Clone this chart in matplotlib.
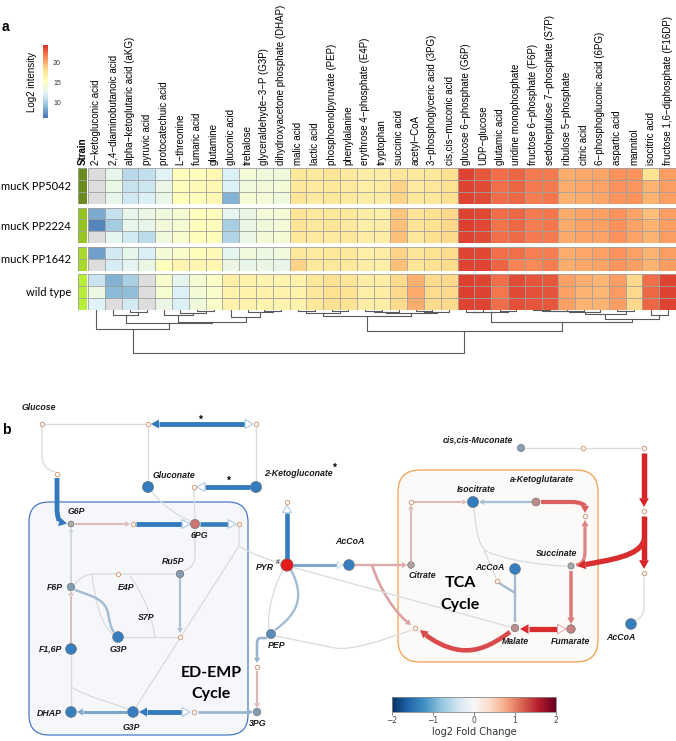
import numpy as np
import matplotlib
matplotlib.use("Agg")
import matplotlib.pyplot as plt
from matplotlib.colors import LinearSegmentedColormap, ListedColormap, Normalize
from matplotlib.cm import ScalarMappable
from matplotlib.path import Path
from matplotlib.patches import PathPatch, Polygon, FancyBboxPatch

plt.rcParams['font.family'] = ['Liberation Sans', 'DejaVu Sans']

# ---------------- panel a data ----------------
metabolites = ["2-ketogluconic acid", "2,4-diaminobutanoic acid", "alpha-ketoglutaric acid (aKG)",
               "pyruvic acid", "protocatechuic acid", "L-threonine", "fumaric acid", "glutamine",
               "gluconic acid", "trehalose", "glyceraldehyde-3-P (G3P)",
               "dihydroxyacetone phosphate (DHAP)", "malic acid", "lactic acid",
               "phosphoenolpyruvate (PEP)", "phenylalanine", "erythrose 4-phosphate (E4P)",
               "tryptophan", "succinic acid", "acetyl-CoA", "3-phosphoglyceric acid (3PG)",
               "cis,cis-muconic acid", "glucose 6-phosphate (G6P)", "UDP-glucose", "glutamic acid",
               "uridine monophosphate", "fructose 6-phosphate (F6P)",
               "sedoheptulose 7-phosphate (S7P)", "ribulose 5-phosphate", "citric acid",
               "6-phosphogluconic acid (6PG)", "aspartic acid", "mannitol", "isocitric acid",
               "fructose 1,6-diphosphate (F16DP)"]
strains = ["mucK PP5042", "mucK PP2224", "mucK PP1642", "wild type"]
strain_reps = [3, 3, 2, 3]
strain_colors = ["#6a8b1f", "#96c423", "#a8d82b", "#b6ee3a"]

nan = np.nan
# log2 intensity, one list per metabolite, 11 samples (3 + 3 + 2 + 3)
intensity_by_metabolite = [
    [nan, nan, nan, 8.5, 7.0, nan, 8.0, nan, 11.5, 13.5, 12.3],
    [13.0, 13.3, 13.0, 11.3, 10.0, 12.8, 11.8, 11.9, 8.8, 9.1, nan],
    [10.8, 11.3, 11.7, 13.0, 13.0, 11.8, 13.0, 12.6, 10.3, 9.3, 11.8],
    [11.2, 11.6, 12.1, 13.4, 13.0, 11.0, 12.0, 13.3, nan, nan, nan],
    [12.4, 13.4, 13.2, 13.8, 13.9, 13.7, 14.0, 15.3, 14.6, 14.4, 13.4],
    [15.4, 15.5, 15.4, 14.3, 14.3, 14.6, 14.8, 16.3, 12.8, 12.2, 12.2],
    [15.4, 15.8, 15.5, 15.3, 15.4, 15.5, 15.5, 16.2, 14.3, 14.1, 13.8],
    [16.0, 16.0, 16.0, 15.5, 15.5, 15.5, 15.8, 16.1, 14.9, 14.7, 14.8],
    [12.2, 12.2, 8.8, 12.8, 10.2, 10.5, 12.8, 13.4, 16.8, 16.6, 16.7],
    [14.0, 13.8, 14.3, 13.4, 13.3, 13.4, 13.8, 13.1, 16.7, 16.6, 16.5],
    [13.8, 13.9, 14.1, 14.0, 13.8, 14.1, 13.5, 13.4, 16.3, 16.6, 16.4],
    [13.8, 14.1, 13.7, 14.2, 14.1, 14.2, 13.8, 13.1, 16.4, 16.6, 16.3],
    [17.5, 17.5, 17.7, 17.7, 17.7, 17.5, 17.5, 18.7, 16.6, 16.6, 16.6],
    [17.3, 17.3, 17.2, 17.4, 17.4, 17.3, 17.4, 17.4, 17.5, 17.5, 17.5],
    [17.7, 17.5, 17.5, 17.5, 17.7, 17.4, 17.5, 17.5, 18.0, 18.2, 18.1],
    [17.3, 17.4, 17.4, 17.5, 17.4, 17.5, 17.5, 17.5, 17.7, 18.0, 18.0],
    [17.0, 16.9, 17.0, 17.0, 16.9, 17.0, 16.9, 17.0, 17.0, 16.9, 17.0],
    [17.0, 17.1, 17.0, 16.9, 17.0, 17.0, 17.0, 16.9, 17.0, 17.1, 17.0],
    [17.6, 18.8, 18.7, 19.3, 19.5, 19.5, 18.8, 19.5, 18.5, 18.6, 18.5],
    [17.4, 17.4, 17.5, 17.7, 17.7, 17.6, 17.7, 17.7, 20.0, 20.2, 20.1],
    [17.5, 17.6, 17.5, 18.3, 18.2, 18.3, 18.1, 18.1, 18.4, 18.4, 18.4],
    [18.2, 18.1, 18.2, 18.6, 18.6, 18.5, 18.4, 18.4, 18.6, 18.6, 18.5],
    [23.7, 23.7, 23.6, 23.7, 23.8, 23.7, 23.6, 23.7, 23.8, 23.8, 23.7],
    [23.0, 23.4, 23.4, 23.5, 23.5, 23.4, 23.5, 23.6, 23.6, 23.7, 23.6],
    [22.2, 22.2, 22.3, 22.2, 22.1, 22.2, 22.2, 22.6, 22.2, 22.0, 22.2],
    [22.6, 22.6, 22.5, 22.5, 22.5, 22.4, 22.2, 21.5, 23.4, 23.4, 23.3],
    [21.9, 21.9, 21.8, 21.9, 21.8, 21.9, 21.7, 21.4, 23.1, 23.2, 23.1],
    [21.9, 21.9, 22.0, 22.0, 22.0, 21.9, 21.8, 21.8, 23.0, 23.1, 23.0],
    [20.1, 20.1, 20.0, 20.2, 20.2, 20.2, 20.1, 20.1, 20.6, 20.6, 20.6],
    [20.3, 20.3, 20.2, 20.5, 20.5, 20.4, 20.3, 20.3, 20.1, 19.9, 19.9],
    [20.4, 20.5, 20.4, 20.6, 20.6, 20.5, 20.6, 20.5, 19.8, 19.8, 19.9],
    [21.1, 21.1, 21.0, 21.1, 21.2, 21.1, 21.1, 21.0, 20.7, 20.8, 20.7],
    [21.1, 21.0, 21.1, 20.5, 20.5, 20.5, 20.6, 20.6, 18.6, 18.6, 18.6],
    [18.0, 19.9, 19.9, 19.5, 19.9, 19.9, 19.9, 19.9, 22.2, 22.5, 22.5],
    [20.7, 20.7, 20.7, 20.7, 20.7, 20.7, 20.7, 20.7, 23.6, 23.7, 23.7],
]
# column dendrogram: (left, right, height); new clusters get ids 35, 36, ...
col_linkage = [
    (2, 3, 1.7), (1, 35, 4.7), (6, 7, 1.0), (5, 37, 3.3), (4, 38, 5.0),
    (10, 11, 0.7), (9, 40, 2.3), (8, 41, 7.3), (39, 42, 11.7), (36, 43, 12.7),
    (0, 44, 19.3), (12, 13, 1.0), (14, 15, 1.5), (46, 47, 3.0), (16, 17, 1.0),
    (49, 18, 2.5), (19, 20, 1.0), (51, 21, 2.0), (50, 52, 3.5), (48, 53, 5.7),
    (22, 23, 1.7), (24, 25, 1.0), (55, 56, 2.3), (26, 27, 0.5), (58, 28, 1.0),
    (59, 29, 1.5), (60, 30, 2.5), (31, 32, 1.0), (61, 62, 4.0), (33, 34, 5.0),
    (63, 64, 9.0), (57, 65, 12.0), (54, 66, 21.0), (45, 67, 43.0),
]

# ---------------- panel b data ----------------
node_names = ["Gluconate", "2-Ketogluconate", "G6P", "6PG", "F6P", "Ru5P", "G3P", "F1,6P",
              "DHAP", "G3P", "3PG", "PEP", "PYR", "AcCoA", "Citrate", "Isocitrate",
              "a-Ketoglutarate", "cis,cis-Muconate", "Succinate", "Fumarate", "Malate",
              "AcCoA", "AcCoA"]
node_log2fc = [-1.6, -1.6, 0.0, 1.0, -0.5, -0.5, -1.5, -1.5, -1.5, -1.5, -0.5, -1.0, 2.0,
               -1.5, 0.2, -1.6, 0.6, -0.4, -0.1, 0.8, 0.5, -1.5, -1.5]
reaction_log2fc = [0, -1.6, 0, 0, 0, -1.6, -1.6, 0, 0, 0.35, -1.6, -1.5, 0, 0, 0, -0.15,
                   0.3, 0, 0, -0.8, -1.6, -0.6, 0.4, -0.6, 0, -0.5, -1.5, -0.8, 0.5, 0.6,
                   0.35, 0.35, -0.45, 1.3, 0.9, 1.0, 1.8, 1.5, -0.5, -0.5, 0, 0, 0, 0, 0, 0,
                   1.9, 1.9, 1.8, 0, 0, 0, 0, 0, -0.4, -0.5]

# ---------------- figure ----------------
W, H = 676, 741
fig = plt.figure(figsize=(W / 100, H / 100), dpi=100)


def px_axes(x0, y0, x1, y1):
    return fig.add_axes([x0 / W, 1 - y1 / H, (x1 - x0) / W, (y1 - y0) / H])


axb = fig.add_axes([0, 0, 1, 1])
axb.set_xlim(0, W)
axb.set_ylim(H, 0)
axb.axis("off")

# heatmap
data = np.array(intensity_by_metabolite).T
cmap_a = LinearSegmentedColormap.from_list(
    "pheat", ["#4575B4", "#91BFDB", "#E0F3F8", "#FFFFBF", "#FEE090", "#FC8D59", "#D73027"])
cmap_a.set_bad("#dddddd")
norm_a = Normalize(6.3, 24.3)
ncol = len(metabolites)
group_y = [(168, 204), (207.5, 243), (246.5, 270.5), (274, 310)]
strain_cmap = ListedColormap(strain_colors)

r0 = 0
for g, (name, n) in enumerate(zip(strains, strain_reps)):
    y0, y1 = group_y[g]
    ax = px_axes(88, y0, 676, y1)
    ax.set_facecolor("#dddddd")
    ax.pcolormesh(np.ma.masked_invalid(data[r0:r0 + n]), cmap=cmap_a, norm=norm_a)
    ax.vlines(np.arange(ncol + 1), 0, n, color="#a0a0a0", lw=0.6)
    ax.hlines(np.arange(n + 1), 0, ncol, color="#a0a0a0", lw=0.6)
    ax.set_xlim(0, ncol)
    ax.set_ylim(n, 0)
    for s in ax.spines.values():
        s.set_visible(False)
    ax.set_yticks([])
    if g == 0:
        ax.xaxis.tick_top()
        ax.set_xticks(np.arange(ncol) + 0.5)
        ax.set_xticklabels([m.replace("-", "\u2212") for m in metabolites], rotation=90,
                           fontsize=7)
        ax.tick_params(axis="x", length=0, pad=2)
    else:
        ax.set_xticks([])

    sa = px_axes(78, y0, 86.5, y1)
    sa.pcolormesh(np.full((n, 1), g), cmap=strain_cmap, norm=Normalize(-0.5, 3.5))
    sa.hlines(np.arange(n + 1), 0, 1, color="#a0a0a0", lw=0.6)
    sa.vlines([0, 1], 0, n, color="#a0a0a0", lw=0.6)
    sa.set_xlim(0, 1)
    sa.set_ylim(n, 0)
    for s in sa.spines.values():
        s.set_visible(False)
    sa.set_yticks([n / 2])
    sa.set_yticklabels([name], fontsize=8, family="Lato")
    sa.tick_params(axis="y", length=0, pad=5)
    if g == 0:
        sa.xaxis.tick_top()
        sa.set_xticks([0.5])
        sa.set_xticklabels(["Strain"], rotation=90, fontsize=7, fontweight="bold")
        sa.tick_params(axis="x", length=0, pad=2)
    else:
        sa.set_xticks([])
    r0 += n

# dendrogram below the heatmap
axd = px_axes(88, 310, 676, 356)
pos = {i: (i + 0.5, 0.0) for i in range(ncol)}
for k, (a, b, h) in enumerate(col_linkage):
    xa, ha = pos[a]
    xb, hb = pos[b]
    axd.plot([xa, xa, xb, xb], [ha, h, h, hb], color="#5a5a5a", lw=0.8)
    pos[ncol + k] = ((xa + xb) / 2, h)
axd.set_xlim(0, ncol)
axd.set_ylim(46, 0)
axd.axis("off")

# intensity colour bar
cax = px_axes(43, 45, 47.5, 118)
cb = fig.colorbar(ScalarMappable(norm=norm_a, cmap=cmap_a), cax=cax, ticks=[10, 15, 20])
cb.outline.set_visible(False)
cax.tick_params(length=0, labelsize=5, pad=4, colors="#333333")
axb.text(32, 82, "Log2 intensity", rotation=90, ha="center", va="center", fontsize=7)
axb.text(2, 27, "a", fontsize=10, fontweight="bold", va="center")
axb.text(2, 430, "b", fontsize=10, fontweight="bold", va="center")

# ---------------- panel b ----------------
node_cmap = LinearSegmentedColormap.from_list(
    "node", [(0, "#2a76b8"), (0.15, "#3a80c0"), (0.5, "#ababab"), (0.85, "#d86060"),
             (1, "#e41a1c")])
edge_cmap = LinearSegmentedColormap.from_list(
    "edge", [(0, "#2470b5"), (0.15, "#3a80c0"), (0.5, "#dcdcdc"), (0.85, "#dc5555"),
             (1, "#d7191c")])
fc_norm = Normalize(-2, 2)

# layout (pixel positions)
axb.add_patch(FancyBboxPatch((29, 502), 219, 233, boxstyle="round,pad=0,rounding_size=20",
                             fc="#f5f7fb", ec="#4a78c8", lw=0.9, zorder=1))
axb.add_patch(FancyBboxPatch((398, 470), 200, 192, boxstyle="round,pad=0,rounding_size=22",
                             fc="#fbfaf8", ec="#f0a050", lw=0.9, zorder=1))

edge_paths = [
    ([(44, 424), (146, 424)], None, None),
    ([(253, 424), (151, 424)], "solid", "outline"),
    ([(148, 427), (148, 482)], None, None),
    ([(256, 427), (256, 482)], None, None),
    ([(42, 427), (42, 455), ((42, 466), (48, 470), (55, 472))], None, None),
    ([(57, 478), (57, 508), ((57, 518), (60, 522), (67, 523.5))], "solid", None),
    ([(250, 487), (197, 487)], "outline", None),
    ([(194, 490), (195, 519)], None, None),
    ([(152, 492), ((165, 508), (180, 517), (191, 521))], None, None),
    ([(75, 524), (130, 524)], "solid", None),
    ([(136, 524), (190, 524)], "outline", None),
    ([(200, 524), (236, 524)], "outline", None),
    ([(239, 527), (239, 546), (136, 707)], None, None),
    ([(239, 546), ((252, 554), (268, 560), (281, 563))], None, None),
    ([(195, 529), (195, 556), ((195, 566), (189, 569), (183, 571))], None, None),
    ([(71, 583), (71, 528)], "solid", None),
    ([(71, 644), (71, 591)], "solid", None),
    ([(71, 655), (71, 707)], None, None),
    ([(71, 687), ((88, 697), (112, 703), (128, 709))], None, None),
    ([(127, 712), (77, 712)], "solid", None),
    ([(190, 712), (139, 712)], "solid", "outline"),
    ([(198, 712), (253, 712)], "solid", None),
    ([(257, 671), (257, 708)], "solid", None),
    ([(267, 638), (261, 638), ((258, 638), (257, 640), (257, 644)), (257, 663)], "solid", None),
    ([(283, 570), ((272, 590), (267, 615), (269, 629))], None, None),
    ([(275, 630), ((296, 615), (306, 598), (291, 570))], None, None),
    ([(287, 559), (287, 505)], "outline", None),
    ([(293, 565), (343, 565)], "outline", None),
    ([(355, 565), (407, 565)], "solid", None),
    ([(372, 565), ((380, 590), (395, 612), (411, 625))], "solid", None),
    ([(411, 561), (411, 505)], "solid", None),
    ([(414, 502), (467, 502)], "solid", None),
    ([(532, 502), (479, 502)], "solid", None),
    ([(541, 502), (572, 502), ((580, 502), (585, 505), (585, 513))], "solid", None),
    ([(576, 565), ((584, 563), (585, 558), (585, 550)), (585, 520)], "solid", None),
    ([(571, 571), (571, 624)], "solid", None),
    ([(566, 629), (520, 629)], "solid", "outline"),
    ([(510, 632), ((492, 645), (478, 652), (460, 650)), ((445, 648), (432, 640), (420, 630))],
     "solid", None),
    ([(515, 575), (515, 622)], None, None),
    ([(499, 583), (515, 593)], None, None),
    ([(474, 508), ((476, 530), (478, 544), (486, 551)), ((505, 560), (540, 565), (566, 566))],
     None, None),
    ([(484, 550), (496, 578)], None, None),
    ([(292, 567), (510, 627)], None, None),
    ([(276, 636), (335, 648), ((352, 651), (382, 640), (412, 630))], None, None),
    ([(525, 448), (580, 448)], None, None),
    ([(586, 448), (641, 448)], None, None),
    ([(644, 453), (644, 507)], "solid", None),
    ([(644, 516), (644, 569)], "solid", None),
    ([(644, 540), ((640, 556), (610, 560), (577, 566))], "solid", None),
    ([(644, 577), (644, 606), ((644, 615), (640, 619), (635, 621))], None, None),
    ([(75, 584), ((80, 578), (86, 574), (95, 574)), (176, 574)], None, None),
    ([(92, 574), ((95, 600), (101, 626), (113, 634))], None, None),
    ([(130, 576), ((142, 592), (152, 615), (155, 637))], None, None),
    ([(123, 637), (178, 637)], None, None),
    ([(180, 578), (180, 633)], "solid", None),
    ([(75, 590), ((95, 597), (105, 600), (108, 613)), ((110, 625), (112, 630), (114, 632))],
     None, None),
]


def arrow_head(tip, prev, w, style, color):
    d = tip - prev
    d = d / np.hypot(*d)
    nrm = np.array([-d[1], d[0]])
    L, hw = 1.2 * w + 2.2, 0.6 * w + 1.6
    base = tip - d * L
    tri = [tip, base + nrm * hw, base - nrm * hw]
    if style == "solid":
        axb.add_patch(Polygon(tri, closed=True, fc=color, ec="none", zorder=3))
    else:
        light = tuple(0.45 * np.array(color[:3]) + 0.55)
        axb.add_patch(Polygon(tri, closed=True, fc="white", ec=light, lw=0.7, zorder=3))
    return base


for fc, (spec, end, start) in zip(reaction_log2fc, edge_paths):
    verts, codes = [np.array(spec[0], float)], [Path.MOVETO]
    for s in spec[1:]:
        if isinstance(s[0], tuple):
            verts += [np.array(p, float) for p in s]
            codes += [Path.CURVE4] * 3
        else:
            verts.append(np.array(s, float))
            codes.append(Path.LINETO)
    color = edge_cmap(fc_norm(fc))
    w = 1.3 + 2.2 * abs(fc)
    if end:
        verts[-1] = arrow_head(verts[-1], verts[-2], w, end, color)
    if start:
        verts[0] = arrow_head(verts[0], verts[1], w, start, color)
    axb.add_patch(PathPatch(Path(verts, codes), fc="none", ec=color, lw=w * 0.72,
                            capstyle="butt", joinstyle="round", zorder=2))

node_xy = [(148, 487), (256, 487), (71, 524), (195, 524), (71, 587), (180, 574), (118, 637),
           (71, 649), (71, 712), (133, 712), (257, 712), (271, 634), (287, 565), (349, 565),
           (411, 565), (473, 502), (536, 502), (521, 448), (571, 566), (571, 629), (515, 628),
           (515, 569), (631, 624)]
small_xy = [(42, 424), (148, 424), (256, 424), (57, 474), (194, 487), (133, 524), (239, 524),
            (118, 574), (180, 637), (194, 712), (257, 667), (287, 502), (411, 502), (585, 516),
            (583, 448), (644, 448), (644, 511), (644, 573), (497, 581), (415, 628)]
nx, ny = zip(*node_xy)
radius = 3 + 1.6 * np.abs(node_log2fc)
axb.scatter(nx, ny, s=(2 * radius * 0.72) ** 2, c=node_log2fc, cmap=node_cmap, norm=fc_norm,
            edgecolors="#666666", linewidths=0.4, zorder=4)
sx, sy = zip(*small_xy)
axb.scatter(sx, sy, s=(2 * 2.2 * 0.72) ** 2, c="white", edgecolors="#d49a78", linewidths=0.7,
            zorder=4)

label_pos = [(174, 475, "center"), (298, 474, "center"), (68, 511, "left"),
             (191, 535, "left"), (63, 587, "right"), (173, 562, "center"),
             (118, 650, "center"), (62, 649, "right"), (62, 713, "right"),
             (131, 727, "center"), (258, 724, "center"), (277, 646, "center"),
             (274, 567, "right"), (350, 542, "center"), (409, 575, "left"),
             (476, 489, "center"), (542, 479, "center"), (478, 440, "center"),
             (557, 553, "center"), (571, 642, "center"), (515, 642, "center"),
             (490, 568, "center"), (621, 637, "center")]
lab = dict(fontsize=6.3, fontweight="bold", fontstyle="italic", va="center", zorder=5,
           color="#1a1a1a")
for name, (x, y, ha) in zip(node_names, label_pos):
    axb.text(x, y, name, ha=ha, **lab)
for name, x, y in [("Glucose", 39, 407), ("E4P", 126, 588), ("S7P", 146, 617)]:
    axb.text(x, y, name, ha="center", **lab)
axb.text(335, 468, "*", fontsize=7, fontweight="bold", ha="center", va="center")
axb.text(201, 420, "*", fontsize=7, fontweight="bold", ha="center", va="center")
axb.text(229, 481, "*", fontsize=7, fontweight="bold", ha="center", va="center")
axb.text(278, 562, "#", fontsize=5, ha="center", va="center", color="#1a1a1a")

cyc = dict(fontsize=11.5, fontweight="bold", family="Lato", ha="center", va="center", zorder=5)
axb.text(211, 673, "ED-EMP", **cyc)
axb.text(211, 694, "Cycle", **cyc)
axb.text(460, 583, "TCA", **cyc)
axb.text(460, 605, "Cycle", **cyc)

cax2 = px_axes(392, 697, 556, 712)
cb2 = fig.colorbar(ScalarMappable(norm=fc_norm, cmap="RdBu_r"), cax=cax2,
                   orientation="horizontal", ticks=[-2, -1, 0, 1, 2])
cb2.outline.set_linewidth(0.6)
cb2.outline.set_edgecolor("#888888")
cax2.tick_params(length=2, width=0.5, labelsize=5.5, pad=1, colors="#444444")
for t in cax2.get_xticklabels():
    t.set_family("DejaVu Sans")
cb2.set_label("log2 Fold Change", fontsize=7, family="DejaVu Sans", labelpad=1,
              color="#333333")

fig.savefig("out.png", dpi=100)
